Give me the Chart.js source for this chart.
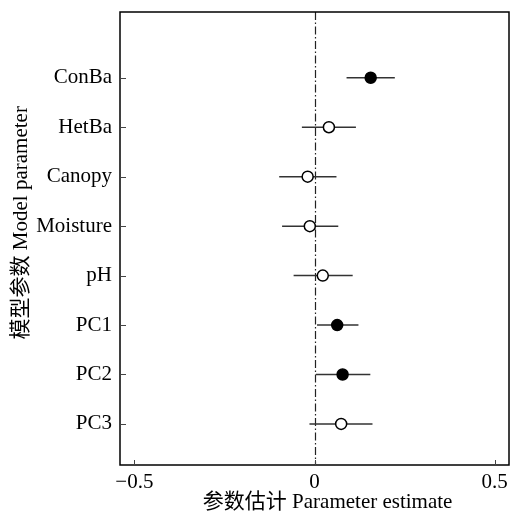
<!DOCTYPE html>
<html>
<head>
<meta charset="utf-8">
<script src="https://cdn.jsdelivr.net/npm/chart.js@4.4.0/dist/chart.umd.min.js"></script>
<style>
  html, body { margin: 0; padding: 0; background: #fff; }
  #wrap { width: 516px; height: 515px; }
</style>
</head>
<body>
<div id="wrap"><canvas id="chart"></canvas></div>
<script>
// parameters, top to bottom
const parameters = ['ConBa', 'HetBa', 'Canopy', 'Moisture', 'pH', 'PC1', 'PC2', 'PC3'];
// estimates and interval bounds
const estimates = [0.156, 0.040, -0.019, -0.013, 0.023, 0.063, 0.078, 0.074];
const lowerCI   = [0.089, -0.035, -0.098, -0.090, -0.058, 0.007, 0.004, -0.014];
const upperCI   = [0.223, 0.115, 0.061, 0.066, 0.106, 0.122, 0.155, 0.161];
// filled marker = interval does not cross zero
const significant = [true, false, false, false, false, true, true, false];
const xTicks = [-0.5, 0, 0.5];

const FONT = "'Liberation Serif', 'Noto Sans CJK SC', serif";

// interval segments, separated by gaps
const ciData = [];
parameters.forEach((p, i) => {
    ciData.push({ x: lowerCI[i], y: i });
    ciData.push({ x: upperCI[i], y: i });
    ciData.push({ x: null, y: null });
});

// frame, inward ticks and the zero reference line
const framePlugin = {
    id: 'frame',
    beforeDatasetsDraw(chart) {
        const { ctx, chartArea: a, scales } = chart;
        const x0 = Math.round(scales.x.getPixelForValue(0)) + 0.5;
        ctx.save();
        ctx.strokeStyle = '#222';
        ctx.lineWidth = 1.2;
        ctx.setLineDash([8, 2.5, 1.5, 2.5]);
        ctx.beginPath();
        ctx.moveTo(x0, a.top);
        ctx.lineTo(x0, a.bottom);
        ctx.stroke();
        ctx.restore();
    },
    afterDraw(chart) {
        const { ctx, chartArea: a, scales } = chart;
        ctx.save();
        ctx.strokeStyle = '#000';
        ctx.lineWidth = 1.5;
        ctx.strokeRect(a.left, a.top, a.right - a.left, a.bottom - a.top);
        ctx.lineWidth = 1;
        ctx.strokeStyle = '#444';
        ctx.beginPath();
        parameters.forEach((p, i) => {
            const y = Math.round(scales.y.getPixelForValue(i)) + 0.5;
            ctx.moveTo(a.left, y);
            ctx.lineTo(a.left + 6, y);
        });
        xTicks.forEach(v => {
            const x = Math.round(scales.x.getPixelForValue(v)) + 0.5;
            ctx.moveTo(x, a.bottom);
            ctx.lineTo(x, a.bottom - 5);
        });
        ctx.stroke();
        ctx.restore();
    }
};

new Chart(document.getElementById('chart'), {
    type: 'scatter',
    data: {
        datasets: [
            {
                type: 'line',
                data: ciData,
                borderColor: '#333',
                borderWidth: 1.5,
                pointRadius: 0,
                spanGaps: false,
                order: 2
            },
            {
                data: estimates.map((v, i) => ({ x: v, y: i })),
                pointRadius: 5.5,
                pointBorderWidth: 1.5,
                pointBorderColor: '#000',
                pointBackgroundColor: significant.map(s => s ? '#000' : '#fff'),
                order: 1
            }
        ]
    },
    plugins: [framePlugin],
    options: {
        responsive: true,
        maintainAspectRatio: false,
        animation: false,
        layout: { padding: { top: 12, right: 3, left: 0, bottom: 0 } },
        plugins: { legend: { display: false }, tooltip: { enabled: false } },
        scales: {
            x: {
                type: 'linear',
                min: -0.54,
                max: 0.54,
                afterBuildTicks: s => { s.ticks = xTicks.map(v => ({ value: v })); },
                afterFit: s => { s.height = 50; s.paddingLeft = 0; s.paddingRight = 0; },
                grid: { display: false, drawTicks: false },
                border: { display: false },
                ticks: {
                    padding: 5,
                    color: '#000',
                    font: { family: FONT, size: 21 },
                    callback: v => v < 0 ? '\u2212' + Math.abs(v) : String(v)
                },
                title: {
                    display: true,
                    // leading spaces nudge the title right, as in the original
                    text: '     参数估计 Parameter estimate',
                    color: '#000',
                    font: { family: FONT, size: 21 },
                    padding: { top: 0, bottom: 0 }
                }
            },
            y: {
                type: 'linear',
                reverse: true,
                min: -1.33,
                max: 7.83,
                afterBuildTicks: s => { s.ticks = parameters.map((p, i) => ({ value: i })); },
                afterFit: s => { s.width = 120; s.paddingTop = 0; s.paddingBottom = 0; },
                grid: { display: false, drawTicks: false },
                border: { display: false },
                ticks: {
                    padding: 8,
                    color: '#000',
                    font: { family: FONT, size: 21 },
                    callback: v => parameters[v]
                },
                title: {
                    display: true,
                    // leading spaces nudge the title up, as in the original
                    text: '      模型参数 Model parameter',
                    color: '#000',
                    font: { family: FONT, size: 21 },
                    padding: { top: 9, bottom: 0 }
                }
            }
        }
    }
});
</script>
</body>
</html>
